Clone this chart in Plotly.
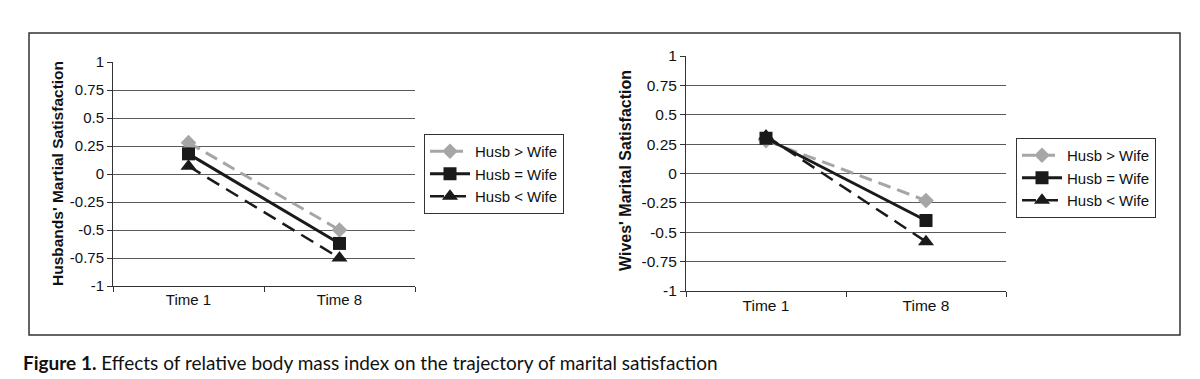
import plotly.graph_objects as go

W, H = 1200, 379
categories = ["Time 1", "Time 8"]
series_names = ["Husb > Wife", "Husb = Wife", "Husb < Wife"]
husb_gt = [0.28, -0.50]
husb_eq = [0.18, -0.62]
husb_lt = [0.07, -0.75]
wife_gt = [0.28, -0.23]
wife_eq = [0.30, -0.40]
wife_lt = [0.32, -0.58]
y_ticks = [1, 0.75, 0.5, 0.25, 0, -0.25, -0.5, -0.75, -1]
y_tick_labels = ["1", "0.75", "0.5", "0.25", "0", "-0.25", "-0.5", "-0.75", "-1"]
left_title = "Husbands' Martial Satisfaction"
right_title = "Wives' Marital Satisfaction"
caption_bold = "Figure 1."
caption_text = "Effects of relative body mass index on the trajectory of marital satisfaction"

styles = [
    dict(color="#a6a6a6", dash="13px,7px", symbol="diamond", msize=12, width=3),
    dict(color="#1a1a1a", dash="solid", symbol="square", msize=13, width=3),
    dict(color="#1a1a1a", dash="14px,8px", symbol="triangle-up", msize=14, width=2.5),
]

SANS = "Liberation Sans, Arial, sans-serif"

fig = go.Figure()
panels = [
    ([husb_gt, husb_eq, husb_lt], "x", "y", "legend"),
    ([wife_gt, wife_eq, wife_lt], "x2", "y2", "legend2"),
]
for data, xa, ya, lg in panels:
    for name, vals, st in zip(series_names, data, styles):
        fig.add_trace(go.Scatter(
            x=categories, y=vals, name=name, xaxis=xa, yaxis=ya, legend=lg,
            mode="lines+markers",
            line=dict(color=st["color"], dash=st["dash"], width=st["width"]),
            marker=dict(symbol=st["symbol"], size=st["msize"], color=st["color"]),
        ))


def xaxis(domain, anchor, fsize):
    return dict(domain=domain, anchor=anchor, type="category", range=[-0.5, 1.5],
                tickson="boundaries", ticks="outside", ticklen=5, tickcolor="#333",
                showline=True, linecolor="#333", linewidth=1, showgrid=False,
                zeroline=False, tickfont=dict(family=SANS, size=fsize, color="#111"),
                automargin=False, fixedrange=True)


def yaxis(domain, anchor, fsize):
    return dict(domain=domain, anchor=anchor, range=[-1, 1], tickvals=y_ticks,
                ticktext=y_tick_labels, ticks="outside", ticklen=5, tickcolor="#333",
                showline=True, linecolor="#333", linewidth=1, showgrid=True,
                gridcolor="#5a5a5a", gridwidth=1, zeroline=False,
                tickfont=dict(family=SANS, size=fsize, color="#111"),
                automargin=False, fixedrange=True)


legend_common = dict(bgcolor="white", bordercolor="#333", borderwidth=1,
                     font=dict(family=SANS, size=15, color="#111"),
                     xanchor="left", yanchor="top", tracegroupgap=0, itemwidth=40)

fig.update_layout(
    width=W, height=H,
    margin=dict(l=0, r=0, t=0, b=0),
    paper_bgcolor="white", plot_bgcolor="white",
    xaxis=xaxis([105 / W, 407 / W], "y", 15),
    yaxis=yaxis([1 - 278 / H, 1 - 54 / H], "x", 15),
    xaxis2=xaxis([678 / W, 998 / W], "y2", 15.5),
    yaxis2=yaxis([1 - 283 / H, 1 - 48 / H], "x2", 15.5),
    legend=dict(x=416 / W, y=1 - 126 / H, **legend_common),
    legend2=dict(x=1008 / W, y=1 - 130 / H, **legend_common),
    showlegend=True,
    shapes=[dict(type="rect", xref="paper", yref="paper",
                 x0=21 / W, x1=1172 / W, y0=1 - 327 / H, y1=1 - 25 / H,
                 line=dict(color="#333", width=1.5), layer="below")],
    annotations=[
        dict(text=f"<b>{left_title}</b>", xref="paper", yref="paper",
             x=50 / W, y=1 - 166 / H, textangle=-90, showarrow=False,
             xanchor="center", yanchor="middle",
             font=dict(family=SANS, size=15.5, color="#111")),
        dict(text=f"<b>{right_title}</b>", xref="paper", yref="paper",
             x=618 / W, y=1 - 163 / H, textangle=-90, showarrow=False,
             xanchor="center", yanchor="middle",
             font=dict(family=SANS, size=16, color="#111")),
        dict(text=f"<b>{caption_bold}</b> {caption_text}",
             xref="paper", yref="paper", x=13 / W, y=1 - 354 / H,
             xanchor="left", yanchor="middle", showarrow=False,
             font=dict(family="Lato, Open Sans, sans-serif", size=19, color="#111")),
    ],
)

fig.write_html("out.html")
